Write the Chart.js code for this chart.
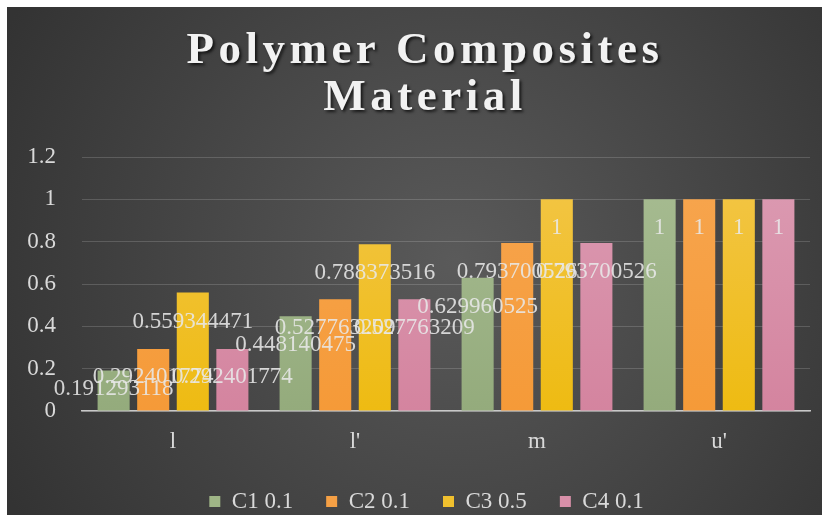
<!DOCTYPE html>
<html>
<head>
<meta charset="utf-8">
<script src="https://cdn.jsdelivr.net/npm/chart.js@4/dist/chart.umd.min.js"></script>
<style>
  html, body { margin: 0; padding: 0; background: #ffffff; }
  #wrap { position: absolute; left: 7px; top: 7px; width: 815px; height: 508px; }
</style>
</head>
<body>
<div id="wrap"><canvas id="chart"></canvas></div>
<script>
// données
const categories = ["l", "l'", "m", "u'"];
const seriesNames = ["C1 0.1", "C2 0.1", "C3 0.5", "C4 0.1"];
const c1Values = [0.191293118, 0.448140475, 0.629960525, 1];
const c2Values = [0.292401774, 0.527763209, 0.793700526, 1];
const c3Values = [0.559344471, 0.788373516, 1, 1];
const c4Values = [0.292401774, 0.527763209, 0.793700526, 1];
const titleLines = ["Polymer Composites", "Material"];
const yMax = 1.2;
const yStep = 0.2;

const topColors = ['#a8bd93', '#f7a650', '#f3c64a', '#dc9cb3'];
const bottomColors = ['#94ab7c', '#f59a38', '#eebb12', '#d4849f'];
const legendColors = ['#9fb586', '#f5a045', '#f0c02e', '#d890a9'];
const serif = '"Liberation Serif", serif';

function barGradient(i) {
    return function(context) {
        const area = context.chart.chartArea;
        if (!area) return legendColors[i];
        const g = context.chart.ctx.createLinearGradient(0, area.top, 0, area.bottom);
        g.addColorStop(0, topColors[i]);
        g.addColorStop(1, bottomColors[i]);
        return g;
    };
}

// fond sombre en dégradé radial
const background = {
    id: 'background',
    beforeDraw(chart) {
        const ctx = chart.ctx;
        const w = chart.width, h = chart.height;
        const g = ctx.createRadialGradient(w * 0.55, h * 0.5, 0, w * 0.55, h * 0.5, w * 0.62);
        g.addColorStop(0, '#5a5a5a');
        g.addColorStop(1, '#333333');
        ctx.save();
        ctx.fillStyle = g;
        ctx.fillRect(0, 0, w, h);
        ctx.restore();
    }
};

// on décale la légende pour la placer comme sur l'original
const legendShift = {
    id: 'legendShift',
    afterLayout(chart) {
        const lg = chart.legend;
        if (!lg) return;
        lg.left += 18;
        lg.right += 18;
        lg.top += 8;
        lg.bottom += 8;
    }
};

// titre sur deux lignes, espacé, avec ombre
const titlePlugin = {
    id: 'bigTitle',
    afterDraw(chart) {
        const ctx = chart.ctx;
        ctx.save();
        ctx.font = 'bold 45px ' + serif;
        ctx.letterSpacing = '4.5px';
        ctx.textAlign = 'center';
        ctx.textBaseline = 'alphabetic';
        ctx.fillStyle = '#f2f2f2';
        ctx.shadowColor = 'rgba(0,0,0,0.7)';
        ctx.shadowOffsetX = 2;
        ctx.shadowOffsetY = 2;
        ctx.shadowBlur = 3;
        ctx.fillText(titleLines[0], 418, 56);
        ctx.fillText(titleLines[1], 418, 103);
        ctx.restore();
    }
};

// étiquettes de valeurs dans le haut des barres
const valueLabels = {
    id: 'valueLabels',
    afterDatasetsDraw(chart) {
        const ctx = chart.ctx;
        ctx.save();
        ctx.font = '23px ' + serif;
        ctx.fillStyle = 'rgba(232,232,232,0.88)';
        ctx.textAlign = 'center';
        ctx.textBaseline = 'middle';
        chart.data.datasets.forEach(function(ds, i) {
            const meta = chart.getDatasetMeta(i);
            meta.data.forEach(function(bar, j) {
                const h = bar.base - bar.y;
                const y = bar.y + Math.min(29, h * 0.45);
                ctx.fillText(String(ds.data[j]), bar.x, y);
            });
        });
        ctx.restore();
    }
};

const allValues = [c1Values, c2Values, c3Values, c4Values];

new Chart(document.getElementById('chart'), {
    type: 'bar',
    data: {
        labels: categories,
        datasets: seriesNames.map(function(name, i) {
            return {
                label: name,
                data: allValues[i],
                backgroundColor: barGradient(i),
                categoryPercentage: 0.87,
                barPercentage: 0.81
            };
        })
    },
    options: {
        responsive: true,
        maintainAspectRatio: false,
        animation: false,
        layout: { padding: { top: 150, left: 0, right: 12, bottom: 0 } },
        plugins: {
            title: { display: false },
            tooltip: { enabled: false },
            legend: {
                position: 'bottom',
                labels: {
                    color: '#d9d9d9',
                    font: { family: serif, size: 23 },
                    boxWidth: 11,
                    boxHeight: 11,
                    padding: 33,
                    generateLabels: function(chart) {
                        return seriesNames.map(function(name, i) {
                            return {
                                text: name,
                                fillStyle: legendColors[i],
                                strokeStyle: legendColors[i],
                                lineWidth: 0,
                                fontColor: '#d9d9d9',
                                datasetIndex: i
                            };
                        });
                    }
                }
            }
        },
        scales: {
            x: {
                afterFit: function(scale) { scale.height = 38; },
                grid: { display: false, drawTicks: false },
                border: { display: true, color: '#c8c8c8', width: 1.5 },
                ticks: {
                    color: '#d9d9d9',
                    font: { family: serif, size: 23 },
                    padding: 17
                }
            },
            y: {
                min: 0,
                max: yMax,
                afterFit: function(scale) { scale.width = 75; },
                grid: { color: 'rgba(255,255,255,0.16)', drawTicks: false },
                border: { display: false },
                ticks: {
                    stepSize: yStep,
                    color: '#d9d9d9',
                    font: { family: serif, size: 23 },
                    padding: 26,
                    callback: function(v) { return String(Math.round(v * 10) / 10); }
                }
            }
        }
    },
    plugins: [background, legendShift, valueLabels, titlePlugin]
});
</script>
</body>
</html>
